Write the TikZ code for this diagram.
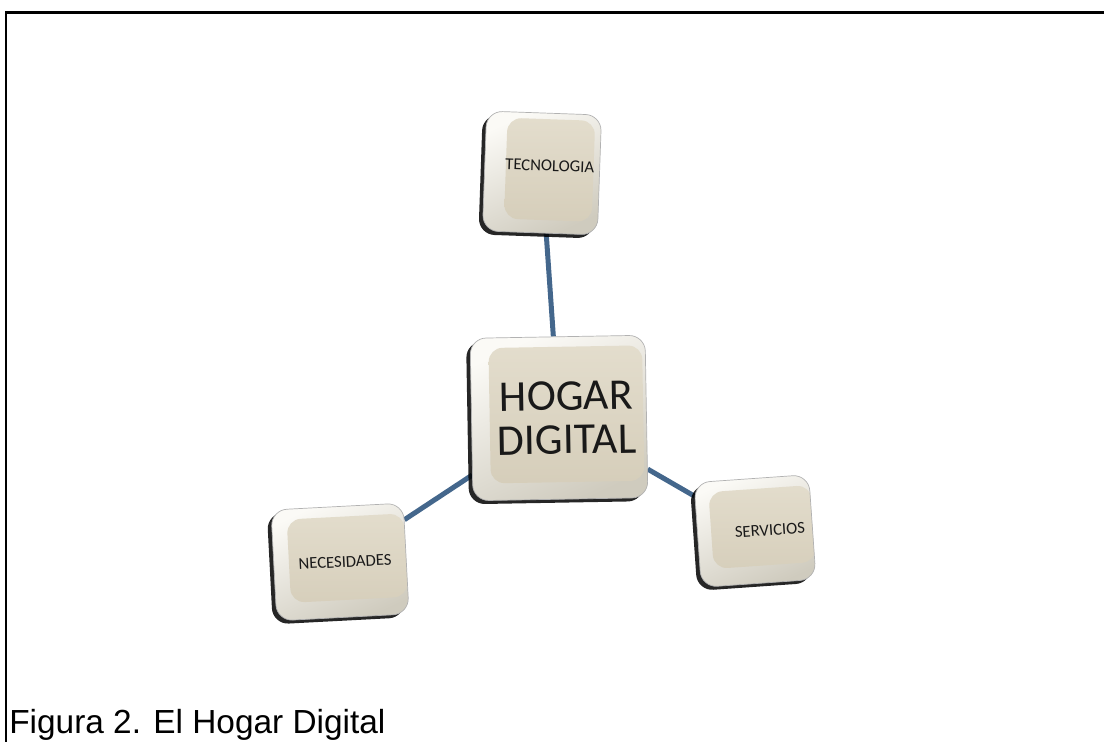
\documentclass[tikz,border=0pt]{standalone}
\usepackage{fontspec}
\setmainfont{Carlito}
\newfontfamily\capfont{Liberation Sans}
\usetikzlibrary{shadows,backgrounds}

\definecolor{keyface}{HTML}{E4DECE}
\definecolor{keyfacedark}{HTML}{D4CCB8}
\definecolor{keyrim}{HTML}{FBFAF6}
\definecolor{keyrimdark}{HTML}{CFCBBE}
\definecolor{linkblue}{HTML}{44678C}

\begin{document}
\begin{tikzpicture}[x=0.02cm,y=-0.02cm,semithick]
  \tikzstyle{key}=[draw=black!30, thin, rounded corners=0.32cm,
                   top color=keyrim, bottom color=keyrimdark, shading angle=25,
                   drop shadow={shadow xshift=-0.08cm, shadow yshift=-0.07cm,
                                opacity=0.85, fill=black},
                   inner sep=0pt, align=center, text=black!90,
                   path picture={
                     \shade[rounded corners=0.28cm, top color=keyface,
                            bottom color=keyfacedark]
                       ([shift={(0.42cm,0.34cm)}]path picture bounding box.south west)
                       rectangle
                       ([shift={(-0.12cm,-0.2cm)}]path picture bounding box.north east);
                   }]
  \tikzstyle{small key}=[key, font=\fontsize{9.5}{10}\selectfont]
  \tikzstyle{link}=[draw=linkblue, line width=0.1cm]

  \useasboundingbox (0,0) rectangle (1104,742);

  % frame
  \draw[line width=0.06cm] (6,742) -- (6,13) -- (1104,13);

  \node[key, minimum width=3.5cm, minimum height=3.25cm,
        font=\fontsize{25}{25}\selectfont, rotate=1]
        (hogar) at (559,418) {\hspace{0.3cm}HOGAR\\\hspace{0.3cm}DIGITAL};
  \node[small key, minimum width=2.3cm, minimum height=2.4cm, rotate=-2]
        (tec) at (542,173) {\hspace{0.3cm}TECNOLOGIA\\[-0.05cm]};
  \node[small key, minimum width=2.65cm, minimum height=2.22cm, rotate=3]
        (nec) at (340,562) {\hspace{0.2cm}NECESIDADES};
  \node[small key, minimum width=2.3cm, minimum height=2.1cm, rotate=4]
        (serv) at (755,531) {\hspace{0.6cm}SERVICIOS};

  \begin{pgfonlayer}{background}
    \path[link] (hogar) edge (tec)
                (hogar) edge (nec)
                (hogar) edge (serv);
  \end{pgfonlayer}

  \node[font=\capfont\fontsize{19}{21}\selectfont, anchor=base west,
        inner sep=0pt] (caption) at (9,733) {Figura 2. El Hogar Digital};
\end{tikzpicture}
\end{document}
